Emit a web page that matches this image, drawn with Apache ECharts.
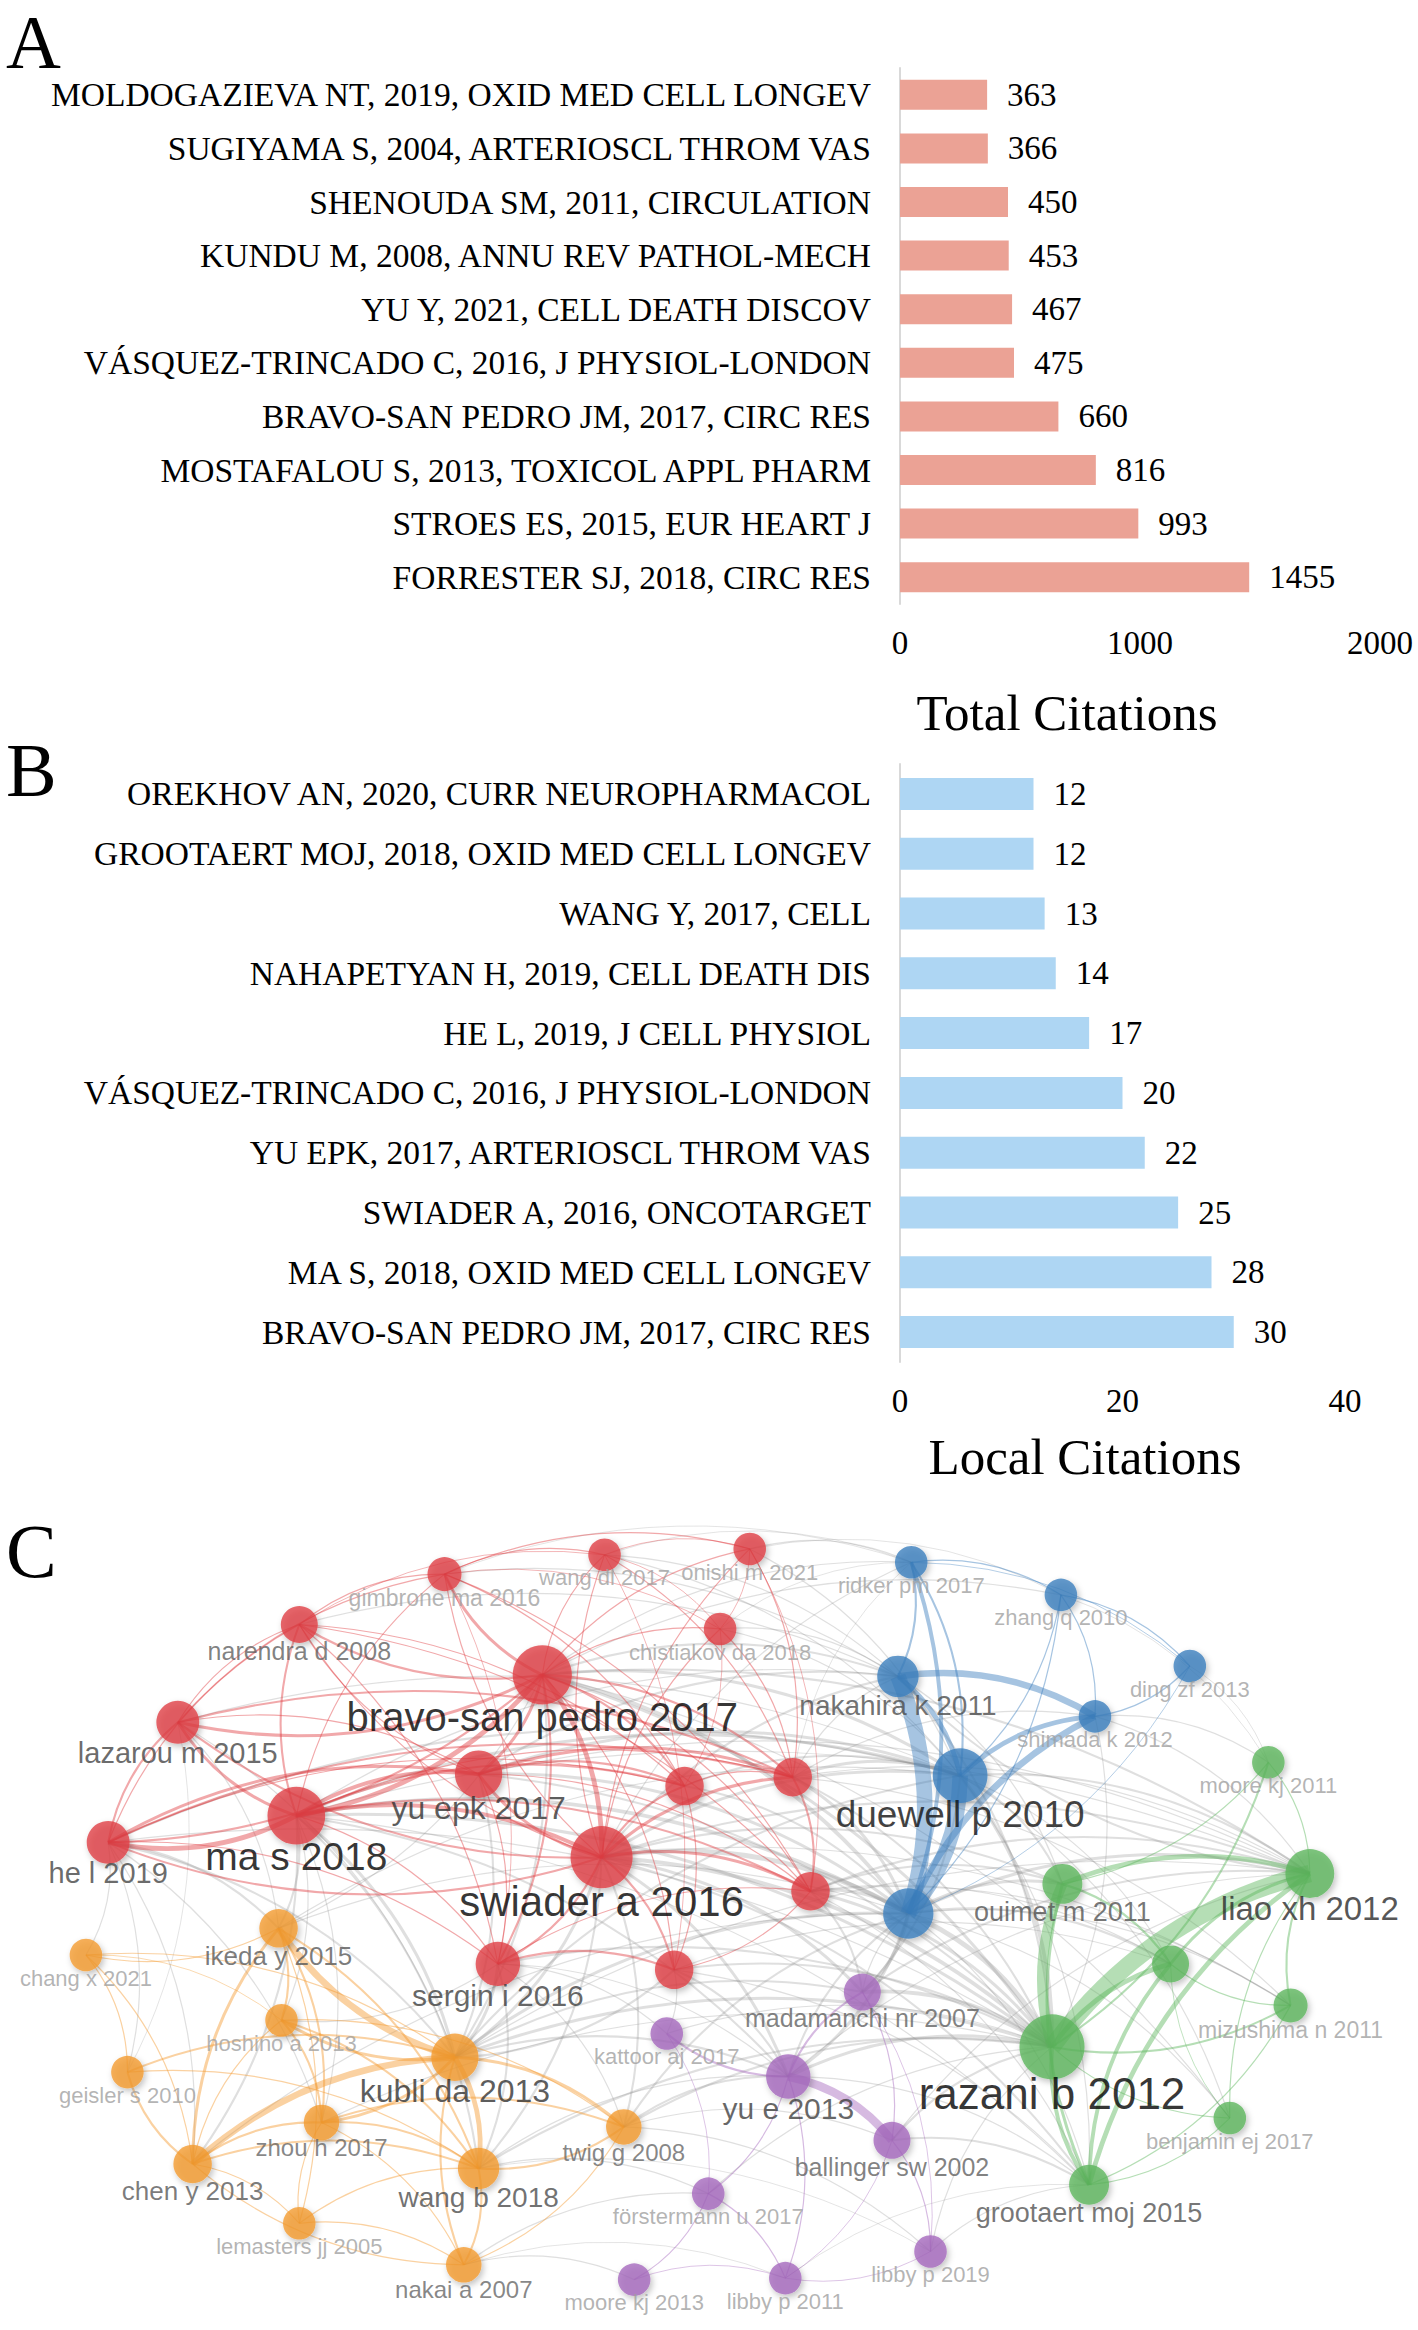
<!DOCTYPE html>
<html>
<head>
<meta charset="utf-8">
<script src="https://cdn.jsdelivr.net/npm/echarts@6/dist/echarts.min.js"></script>
<style>
html, body { margin: 0; padding: 0; background: #fff; }
#main { width: 1418px; height: 2330px; }
</style>
</head>
<body>
<div id="main"></div>
<script>
// A: total citations
var totalDocs = [
    'MOLDOGAZIEVA NT, 2019, OXID MED CELL LONGEV',
    'SUGIYAMA S, 2004, ARTERIOSCL THROM VAS',
    'SHENOUDA SM, 2011, CIRCULATION',
    'KUNDU M, 2008, ANNU REV PATHOL-MECH',
    'YU Y, 2021, CELL DEATH DISCOV',
    'VÁSQUEZ-TRINCADO C, 2016, J PHYSIOL-LONDON',
    'BRAVO-SAN PEDRO JM, 2017, CIRC RES',
    'MOSTAFALOU S, 2013, TOXICOL APPL PHARM',
    'STROES ES, 2015, EUR HEART J',
    'FORRESTER SJ, 2018, CIRC RES'
];
var totalCites = [363, 366, 450, 453, 467, 475, 660, 816, 993, 1455];

// B: local citations
var localDocs = [
    'OREKHOV AN, 2020, CURR NEUROPHARMACOL',
    'GROOTAERT MOJ, 2018, OXID MED CELL LONGEV',
    'WANG Y, 2017, CELL',
    'NAHAPETYAN H, 2019, CELL DEATH DIS',
    'HE L, 2019, J CELL PHYSIOL',
    'VÁSQUEZ-TRINCADO C, 2016, J PHYSIOL-LONDON',
    'YU EPK, 2017, ARTERIOSCL THROM VAS',
    'SWIADER A, 2016, ONCOTARGET',
    'MA S, 2018, OXID MED CELL LONGEV',
    'BRAVO-SAN PEDRO JM, 2017, CIRC RES'
];
var localCites = [12, 12, 13, 14, 17, 20, 22, 25, 28, 30];

// C: co-citation network (empty name = label hidden in the map)
var nodeNames = [
    'wang dl 2017', 'onishi m 2021', 'gimbrone ma 2016', 'narendra d 2008', 'chistiakov da 2018',
    'bravo-san pedro 2017', 'lazarou m 2015', 'yu epk 2017', 'ma s 2018', 'he l 2019',
    'swiader a 2016', '', '', '', '', 'sergin i 2016',
    'ridker pm 2017', 'zhang q 2010', 'ding zf 2013', 'nakahira k 2011', 'shimada k 2012',
    'duewell p 2010', '',
    'moore kj 2011', 'liao xh 2012', 'ouimet m 2011', '', 'mizushima n 2011', 'razani b 2012',
    'benjamin ej 2017', 'grootaert moj 2015',
    'madamanchi nr 2007', 'kattoor aj 2017', 'yu e 2013', 'ballinger sw 2002', 'förstermann u 2017',
    'libby p 2019', 'moore kj 2013', 'libby p 2011',
    'ikeda y 2015', 'chang x 2021', 'hoshino a 2013', 'kubli da 2013', 'geisler s 2010', 'zhou h 2017',
    'twig g 2008', 'chen y 2013', 'wang b 2018', 'lemasters jj 2005', 'nakai a 2007'
];
var nodeCluster = [
    0, 0, 0, 0, 0, 0, 0, 0, 0, 0, 0, 0, 0, 0, 0, 0,
    1, 1, 1, 1, 1, 1, 1,
    2, 2, 2, 2, 2, 2, 2, 2,
    3, 3, 3, 3, 3, 3, 3, 3,
    4, 4, 4, 4, 4, 4, 4, 4, 4, 4, 4
];
var nodeX = [
    408, 506, 300, 202, 486, 366, 120, 323, 200, 73, 406, 462, 535, 547, 455, 336,
    615, 716, 803, 606, 739, 648, 613,
    856, 884, 717, 790, 871, 710, 830, 735,
    582, 450, 532, 602, 478, 628, 428, 530,
    188, 58, 190, 307, 86, 217, 421, 130, 323, 202, 313
];
var nodeY = [
    1049, 1045, 1062, 1096, 1099, 1130, 1162, 1197, 1225, 1243, 1253, 1205, 1199, 1276, 1329, 1325,
    1054, 1076, 1124, 1131, 1158, 1198, 1291,
    1189, 1264, 1271, 1325, 1353, 1381, 1429, 1474,
    1344, 1372, 1401, 1444, 1480, 1519, 1538, 1537,
    1301, 1319, 1363, 1388, 1398, 1432, 1435, 1460, 1463, 1500, 1528
];
var nodeWeight = [
    11, 11, 11.5, 12.5, 11, 20, 14.5, 16, 19.5, 14.5, 21, 13, 13, 13, 13, 15,
    11, 11, 11, 14, 11, 18.5, 17,
    11, 16.5, 13.5, 12.5, 11.5, 22, 11, 13.5,
    12.5, 11, 15, 12.5, 11, 11, 11, 11,
    13, 11, 11, 16, 11, 12, 12, 13, 14, 11, 12
];

// links between clusters [source, target, strength]
var crossLinks = [
    [10,22,3],[10,21,2],[5,21,2],[5,22,2.5],[8,22,2.5],[8,21,2],[7,21,2],[7,22,2],[12,21,2],[12,22,2],
    [13,22,2],[11,21,1.5],[11,22,1.5],[9,21,1.5],[6,21,1],[5,19,1.5],[10,19,1.5],[8,19,1],[7,19,1.5],[12,19,1],
    [10,28,2.5],[8,28,2],[5,28,2],[7,28,1.5],[13,28,2],[12,28,1.5],[14,28,1.5],[9,28,1],[15,28,1.5],
    [22,28,3],[21,28,2.5],[19,28,1.5],[22,24,2],[21,24,1.5],[22,25,2],[21,25,1.5],[19,25,1],[20,24,1],
    [20,23,1],[18,23,0.8],[17,23,0.8],[22,26,1.5],[21,26,1],[22,30,1],[21,30,1],[20,28,1],
    [10,33,2],[10,31,2],[8,33,1.5],[22,33,2],[22,31,2.5],[21,31,1.5],[31,28,2.5],[33,28,2],[34,28,1.5],
    [32,28,1],[31,24,1.5],[33,24,1],[13,31,1.5],[14,33,1.5],[14,32,1],[15,32,1],[15,33,1],
    [10,42,2],[8,42,2],[15,42,2],[5,42,1.5],[7,42,1.5],[9,42,1.5],[6,42,1],[14,42,1.5],[9,39,1.5],
    [8,39,1.5],[6,39,1],[9,40,1],[9,43,1],[6,43,0.8],[8,46,1.5],[9,46,1],[8,47,1.5],[10,47,1.5],
    [15,47,1.5],[10,45,1.5],[15,45,1],[8,44,1],[9,44,1],[15,41,1],[8,41,1],[5,39,1],
    [42,22,2],[42,28,2],[42,21,1.5],[47,28,1.5],[45,28,1.5],[45,22,1.5],[42,31,1.5],[42,33,1.5],
    [45,33,1.5],[45,34,1],[47,33,1],[49,35,1],[49,37,1],[47,35,1],[46,22,1],[39,22,1],[39,21,1],
    [44,28,1],[42,24,1],[45,36,1],[49,38,0.8],[47,36,0.8],
    [33,30,1],[34,30,1.5],[36,30,1],[38,30,0.8],[35,28,1],[36,28,1],[34,24,1],[31,22,1],[33,22,1.5],
    [0,21,1],[1,21,1],[4,19,1],[4,21,1],[0,19,1],[2,19,1],[3,19,1],[1,16,1],[0,16,0.8],[4,16,0.8],
    [2,16,0.8],[12,16,0.8],[1,17,0.8],[5,17,1],[5,16,1],[10,16,1],[12,20,1],[13,24,1.5],[13,25,1.5],
    [12,24,1],[10,24,1.5],[8,24,1],[10,25,1.5],[5,24,1.5],[7,24,1],[13,26,1],[14,26,1],[10,30,1.5],
    [8,30,1],[14,30,1],[13,30,1],[10,27,1],[13,27,1],[12,27,1],[5,29,1],[22,29,1],[21,29,1],
    [22,27,1],[24,19,1.5]
];
// links inside a cluster
var clusterLinks = [
    [5,8,3],[5,10,3],[5,7,2],[5,6,2],[5,9,1.5],[5,3,1.5],[5,2,2],[5,0,1],[5,1,1],[5,4,1],[5,11,1.5],
    [5,12,1.5],[5,13,1],[5,14,1],[5,15,1.5],
    [8,9,3],[8,6,2],[8,7,2.5],[8,10,2.5],[8,3,1.5],[8,11,1.5],[8,12,1],[8,13,1.5],[8,15,1],[8,2,1],
    [10,7,2],[10,9,1.5],[10,6,1.5],[10,11,1.5],[10,12,2],[10,13,2],[10,14,1.5],[10,15,1.5],[10,3,1],
    [10,2,1],[10,0,1],[10,1,1],[10,4,1],
    [9,6,1.5],[9,7,2],[9,11,1],[9,12,1.5],[9,3,1],[9,15,1],
    [6,7,1],[6,3,1],[6,12,1.5],[6,2,1],
    [7,11,1.5],[7,12,2],[7,13,1],[7,15,1],[7,3,1],
    [3,2,1],[3,11,1],[3,13,1],[3,0,0.8],
    [2,0,1],[2,1,1],[2,4,0.8],[2,11,1],[2,13,1],
    [0,1,0.8],[0,4,0.8],[0,12,1],[0,14,0.8],[1,4,0.8],[1,12,1],[1,13,0.8],[4,12,1],[4,11,0.8],
    [11,12,1],[12,13,1.5],[13,14,1],[15,14,1.5],[15,13,1],[11,14,1],[3,15,1],[2,15,0.8],
    [19,22,9],[21,22,9],[19,20,4],[21,20,3],[22,20,4],[19,21,3],[16,22,2.5],[16,19,1.5],[16,21,1.5],
    [17,20,1],[17,21,1],[17,22,1],[18,20,1],[18,22,0.8],[16,17,1],[17,18,1],[16,18,0.8],
    [28,24,10],[28,25,6],[25,24,3],[28,26,3],[30,24,3],[30,26,2.5],[30,28,2.5],[26,24,2],[27,24,1.5],
    [27,28,1.5],[27,26,1],[29,24,1],[29,28,1],[29,26,0.8],[23,24,1],[23,28,1.5],[23,25,1],[29,30,1],
    [25,26,1.5],[30,25,2],[27,30,1],
    [33,34,5],[33,31,1.5],[31,34,1],[33,32,1.5],[33,35,1],[34,36,1],[35,37,1],[35,38,1],[33,38,1],
    [34,38,0.8],[32,35,0.8],[31,36,0.8],[36,38,0.8],[37,38,0.8],
    [42,39,4],[46,42,4],[42,47,3],[42,45,2],[42,41,2],[42,44,2],[46,39,2],[46,44,1.5],[46,47,1.5],
    [46,43,1.5],[46,41,1],[46,48,1],[39,41,1.5],[39,47,1.5],[39,44,1.5],[39,40,1],[39,48,1],[40,43,1],
    [40,42,1],[40,46,1],[43,42,1.5],[43,47,1],[41,47,1.5],[41,44,1.5],[44,47,1.5],[44,45,1.5],
    [45,47,1.5],[47,49,1.5],[48,44,1],[48,49,1],[49,42,1.5],[49,46,1],[45,49,1],[41,45,1],[44,49,1],
    [40,41,0.8],[48,47,1]
];

// red, blue, green, purple, orange
var clusterColors = ['#df3d43', '#3a7dbd', '#5bb55b', '#a466bd', '#f39a2e'];
var serif = 'Liberation Serif';

function nodeSize(w) { return w * 2.96; }
function labelSize(w) { return Math.round(w * 2); }
function labelGray(w) {
    var g = w <= 11.5 ? 160 : Math.max(0, Math.round(95 * (19.5 - w) / 7));
    return 'rgb(' + g + ',' + g + ',' + g + ')';
}

var nodes = nodeNames.map(function (name, i) {
    var w = nodeWeight[i];
    var fs = labelSize(w);
    return {
        name: name || ('node ' + i),
        value: [nodeX[i], nodeY[i]],
        symbolSize: nodeSize(w),
        itemStyle: { color: clusterColors[nodeCluster[i]] },
        label: {
            show: !!name,
            fontSize: fs,
            color: labelGray(w),
            offset: [0, fs * 1.05]
        }
    };
});

function toEdge(l) {
    var a = nodeCluster[l[0]], b = nodeCluster[l[1]];
    var same = a === b;
    return {
        source: l[0],
        target: l[1],
        lineStyle: {
            width: Math.max(0.8, l[2] * 1.8 - 0.6),
            color: same ? clusterColors[a] : '#8c8c8c',
            opacity: same ? 0.45 : 0.28,
            curveness: 0.18
        }
    };
}
var edges = crossLinks.map(toEdge).concat(clusterLinks.map(toEdge));

function barCategoryAxis(gridIndex, docs) {
    return {
        type: 'category',
        gridIndex: gridIndex,
        inverse: true,
        data: docs,
        axisLine: { show: true, lineStyle: { color: '#d9d9d9', width: 2 } },
        axisTick: { show: false },
        axisLabel: { margin: 29, fontFamily: serif, fontSize: 33.5, color: '#000' }
    };
}
function barValueAxis(gridIndex, max, interval) {
    return {
        type: 'value',
        gridIndex: gridIndex,
        min: 0,
        max: max,
        interval: interval,
        axisLine: { show: false },
        axisTick: { show: false },
        splitLine: { show: false },
        axisLabel: {
            margin: 22, fontFamily: serif, fontSize: 33, color: '#000',
            formatter: function (v) { return String(v); }
        }
    };
}
function letter(text, top) {
    return {
        text: text, left: 6, top: top, padding: 0,
        textStyle: { fontFamily: serif, fontSize: 76, fontWeight: 'normal', color: '#000' }
    };
}
function axisTitle(text, left, top) {
    return {
        text: text, left: left, top: top, padding: 0, textAlign: 'center',
        textStyle: { fontFamily: serif, fontSize: 51, fontWeight: 'normal', color: '#000' }
    };
}

var option = {
    backgroundColor: '#fff',
    animation: false,
    title: [
        letter('A', 4),
        letter('B', 732),
        letter('C', 1513),
        axisTitle('Total Citations', 1067, 687),
        axisTitle('Local Citations', 1085, 1431)
    ],
    grid: [
        { left: 900, top: 68, width: 480, height: 536 },
        { left: 900, top: 764, width: 445, height: 598 },
        { left: 0, top: 1500, width: 1418, height: 830 }
    ],
    xAxis: [
        barValueAxis(0, 2000, 1000),
        barValueAxis(1, 40, 20),
        { type: 'value', gridIndex: 2, min: 0, max: 957, show: false }
    ],
    yAxis: [
        barCategoryAxis(0, totalDocs),
        barCategoryAxis(1, localDocs),
        { type: 'value', gridIndex: 2, min: 1012, max: 1572, inverse: true, show: false }
    ],
    series: [
        {
            type: 'bar',
            xAxisIndex: 0,
            yAxisIndex: 0,
            data: totalCites,
            barWidth: 30,
            itemStyle: { color: '#eba295' },
            label: {
                show: true, position: 'right', distance: 20,
                fontFamily: serif, fontSize: 33, color: '#000'
            }
        },
        {
            type: 'bar',
            xAxisIndex: 1,
            yAxisIndex: 1,
            data: localCites,
            barWidth: 32,
            itemStyle: { color: '#aed6f3' },
            label: {
                show: true, position: 'right', distance: 20,
                fontFamily: serif, fontSize: 33, color: '#000'
            }
        },
        {
            type: 'graph',
            coordinateSystem: 'cartesian2d',
            xAxisIndex: 2,
            yAxisIndex: 2,
            silent: true,
            data: nodes,
            links: edges,
            edgeSymbol: ['none', 'none'],
            lineStyle: { curveness: 0.18 },
            itemStyle: {
                opacity: 0.78,
                shadowBlur: 6,
                shadowColor: 'rgba(0,0,0,0.3)',
                shadowOffsetX: 2,
                shadowOffsetY: 3
            },
            label: { position: 'inside', fontFamily: 'Liberation Sans' },
            emphasis: { disabled: true }
        }
    ]
};

echarts.init(document.getElementById('main'), null, { renderer: 'svg' }).setOption(option);
</script>
</body>
</html>
